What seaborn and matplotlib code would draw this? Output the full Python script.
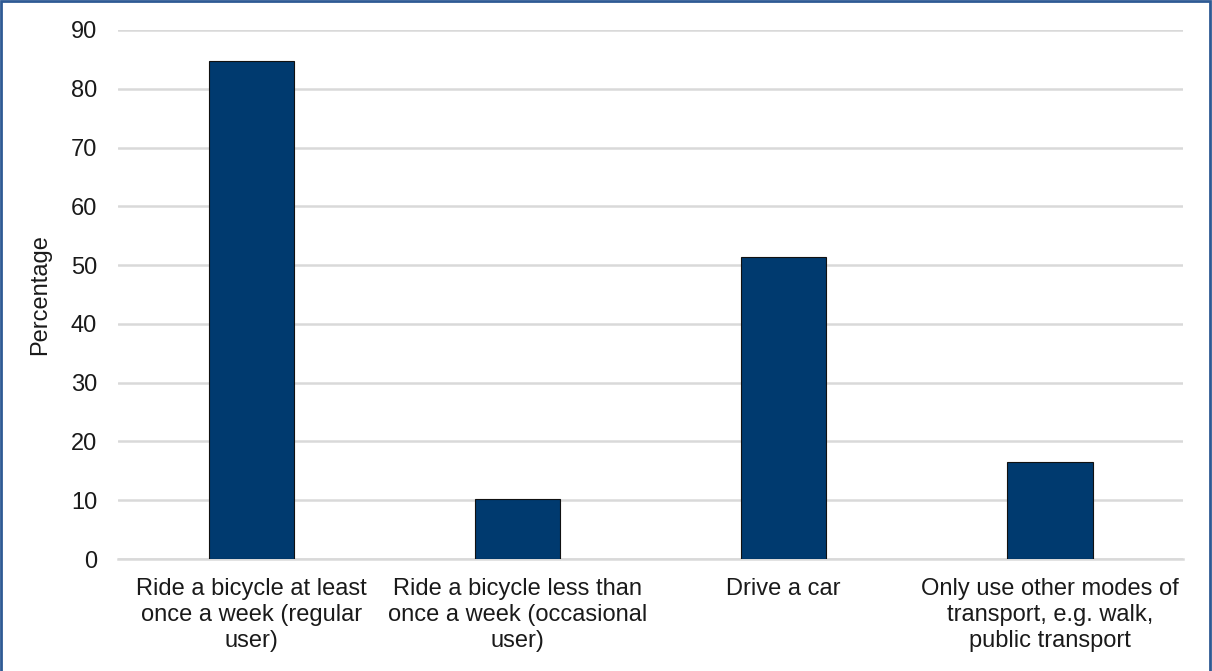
import matplotlib
matplotlib.use("Agg")
import matplotlib.pyplot as plt
import seaborn as sns
import pandas as pd
from matplotlib.patches import Rectangle

# Datos del gráfico
categories = [
    "Ride a bicycle at least\nonce a week (regular\nuser)",
    "Ride a bicycle less than\nonce a week (occasional\nuser)",
    "Drive a car",
    "Only use other modes of\ntransport, e.g. walk,\npublic transport",
]
percentages = [84.7, 10.2, 51.4, 16.5]
y_ticks = [0, 10, 20, 30, 40, 50, 60, 70, 80, 90]

sns.set_theme(style="white")
plt.rcParams['font.family'] = ['Liberation Sans', 'DejaVu Sans']

df = pd.DataFrame({"Category": categories, "Percentage": percentages})

fig = plt.figure(figsize=(12.12, 6.71), dpi=100)
ax = fig.add_axes([0.0974, 0.1669, 0.8787, 0.7884])

sns.barplot(data=df, x="Category", y="Percentage", ax=ax,
            color="#003A6F", saturation=1, width=0.32,
            edgecolor="#111111", linewidth=0.8, zorder=3)

ax.set_ylim(0, 90)
ax.set_yticks(y_ticks)
ax.set_xlim(-0.5, 3.5)
ax.yaxis.grid(True, color="#D9D9D9", linewidth=1.8, zorder=0)
ax.xaxis.grid(False)
ax.set_axisbelow(True)
for side in ["top", "right", "left"]:
    ax.spines[side].set_visible(False)
ax.spines["bottom"].set_color("#D9D9D9")
ax.spines["bottom"].set_linewidth(1.8)

ax.tick_params(axis="both", length=0, labelsize=17, colors="#1a1a1a")
ax.tick_params(axis="x", pad=14)
ax.tick_params(axis="y", pad=15)
for lbl in ax.get_xticklabels():
    lbl.set_linespacing(1.22)
ax.set_xlabel("")
ax.set_ylabel("Percentage", fontsize=17, color="#1a1a1a", labelpad=14)

# Borde de la figura
fig.patches.append(Rectangle((0.001, -0.01), 0.997, 1.008, transform=fig.transFigure,
                             fill=False, edgecolor="#2E5A94", linewidth=2))

fig.savefig("out.png", dpi=100)
